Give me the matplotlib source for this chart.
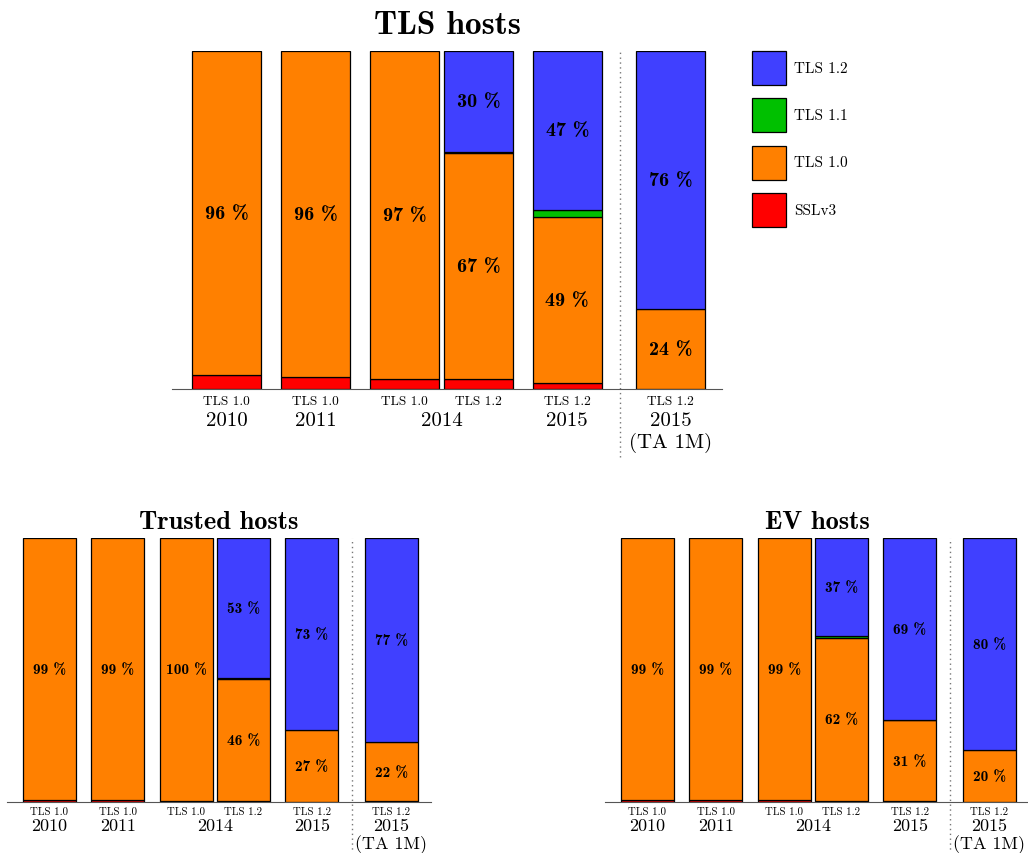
import matplotlib
matplotlib.use("agg")
import matplotlib.pyplot as plt
from matplotlib.patches import Rectangle

# share of hosts (%) per protocol version, one entry per bar
bar_tags = ["TLS 1.0", "TLS 1.0", "TLS 1.0", "TLS 1.2", "TLS 1.2", "TLS 1.2"]
years = ["2010", "2011", "2014", "2015", "2015\n(TA 1M)"]

all_ssl3 = [4.0, 3.6, 3.0, 3.0, 1.8, 0.0]
all_tls10 = [96.0, 96.4, 97.0, 66.8, 49.2, 23.7]
all_tls11 = [0.0, 0.0, 0.0, 0.3, 2.0, 0.0]
all_tls12 = [0.0, 0.0, 0.0, 29.9, 47.0, 76.3]

trusted_ssl3 = [0.6, 0.6, 0.3, 0.3, 0.1, 0.2]
trusted_tls10 = [99.4, 99.4, 99.7, 46.3, 27.0, 22.4]
trusted_tls11 = [0.0, 0.0, 0.0, 0.2, 0.0, 0.0]
trusted_tls12 = [0.0, 0.0, 0.0, 53.2, 72.9, 77.4]

ev_ssl3 = [0.7, 0.6, 0.6, 0.4, 0.2, 0.0]
ev_tls10 = [99.3, 99.4, 99.4, 61.7, 30.9, 19.7]
ev_tls11 = [0.0, 0.0, 0.0, 0.7, 0.1, 0.0]
ev_tls12 = [0.0, 0.0, 0.0, 37.2, 68.8, 80.3]

versions = ["SSLv3", "TLS 1.0", "TLS 1.1", "TLS 1.2"]
colors = {"SSLv3": "#ff0000", "TLS 1.0": "#ff8000", "TLS 1.1": "#00c000", "TLS 1.2": "#4040ff"}

# layout
xpos = [0, 1, 2, 2.83, 3.83, 4.99]
year_pos = [0, 1, 2.415, 3.83, 4.99]
width = 0.775
sep_x = 4.42
W, H = 1028, 854

plt.rcParams["font.family"] = ["cmr10", "DejaVu Serif"]
bold = ["cmb10", "DejaVu Serif"]
fig = plt.figure(figsize=(W / 100, H / 100), dpi=100)


def draw_panel(ax, parts, title, title_size, pct_size, tag_size, year_size,
               tag_off, year_off, year_ls, title_pad):
    bottoms = [0.0] * len(xpos)
    for name, vals in zip(versions, parts):
        for i, v in enumerate(vals):
            if v <= 0:
                continue
            ax.bar(xpos[i], v, width, bottom=bottoms[i], color=colors[name],
                   edgecolor="black", linewidth=0.9)
            if v >= 10:
                ax.text(xpos[i], bottoms[i] + v / 2, "%.0f %%" % v, ha="center",
                        va="center", fontsize=pct_size, family=bold)
            bottoms[i] += v
    ax.set_xlim(-0.615, 5.57)
    ax.set_ylim(0, 100)
    for s in ["top", "left", "right"]:
        ax.spines[s].set_visible(False)
    ax.spines["bottom"].set_color("#555555")
    ax.set_xticks([])
    ax.set_yticks([])
    ax.axvline(sep_x, ymin=-0.2, ymax=1, color="#777777", linestyle=(0, (1, 2.5)),
               linewidth=1, clip_on=False)
    for x, t in zip(xpos, bar_tags):
        ax.annotate(t, xy=(x, 0), xycoords=("data", "axes fraction"),
                    xytext=(0, -tag_off), textcoords="offset points",
                    ha="center", va="top", fontsize=tag_size)
    for x, y in zip(year_pos, years):
        ax.annotate(y, xy=(x, 0), xycoords=("data", "axes fraction"),
                    xytext=(0, -year_off), textcoords="offset points",
                    ha="center", va="top", fontsize=year_size, linespacing=year_ls)
    ax.set_title(title, fontsize=title_size, pad=title_pad, family=bold)


ax_all = fig.add_axes([172 / W, 1 - 390 / H, 550 / W, 338 / H])
draw_panel(ax_all, [all_ssl3, all_tls10, all_tls11, all_tls12], "TLS hosts",
           24, 14.5, 9.6, 15, 4, 16, 1.2, 13)

ax_tr = fig.add_axes([7 / W, 1 - 803 / H, 424 / W, 264 / H])
draw_panel(ax_tr, [trusted_ssl3, trusted_tls10, trusted_tls11, trusted_tls12],
           "Trusted hosts", 19, 11, 7.8, 13, 3, 11, 1.1, 7)

ax_ev = fig.add_axes([605 / W, 1 - 803 / H, 424 / W, 264 / H])
draw_panel(ax_ev, [ev_ssl3, ev_tls10, ev_tls11, ev_tls12],
           "EV hosts", 19, 11, 7.8, 13, 3, 11, 1.1, 7)

# legend, drawn by hand in pixel positions
for k, name in enumerate(versions[::-1]):
    top = 52 + 47.3 * k
    fig.add_artist(Rectangle((752 / W, 1 - (top + 34) / H), 34 / W, 34 / H,
                             transform=fig.transFigure, facecolor=colors[name],
                             edgecolor="black", linewidth=0.9))
    fig.text(794 / W, 1 - (top + 17) / H, name, ha="left", va="center", fontsize=11)

fig.savefig("out.png", dpi=100)
